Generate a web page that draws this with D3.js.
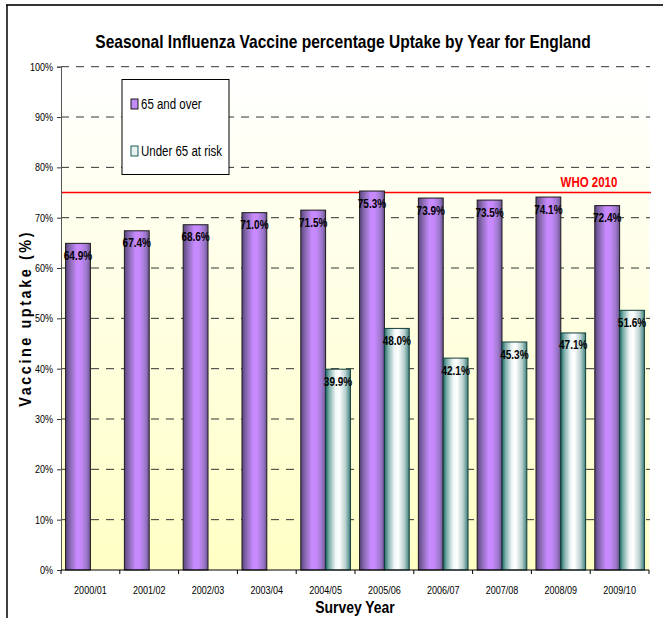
<!DOCTYPE html>
<html>
<head>
<meta charset="utf-8">
<script src="https://cdn.jsdelivr.net/npm/d3@7"></script>
<style>
  body { margin: 0; background: white; }
</style>
</head>
<body>
<div id="chart"></div>
<script>
var w = 663;
var h = 618;

var years = ["2000/01", "2001/02", "2002/03", "2003/04", "2004/05", "2005/06", "2006/07", "2007/08", "2008/09", "2009/10"];
var over65 = [64.9, 67.4, 68.6, 71.0, 71.5, 75.3, 73.9, 73.5, 74.1, 72.4];
var under65 = [null, null, null, null, 39.9, 48.0, 42.1, 45.3, 47.1, 51.6];
var seriesNames = ["65 and over", "Under 65 at risk"];
var yTicks = [0, 10, 20, 30, 40, 50, 60, 70, 80, 90, 100];
var whoTarget = 75;
var whoLabel = "WHO 2010";

var font = "'Liberation Sans', Arial, sans-serif";

var plotLeft = 61, plotRight = 649, plotTop = 66.7, plotBottom = 570;

var svg = d3.select("#chart")
    .append("svg")
    .attr("width", w)
    .attr("height", h);

// no narrow font installed, so squeeze the text horizontally
function condense(sel, f) {
    sel.each(function () {
        var len = this.getComputedTextLength();
        d3.select(this)
            .attr("textLength", len * f)
            .attr("lengthAdjust", "spacingAndGlyphs");
    });
}

var defs = svg.append("defs");

function hGrad(id, stops) {
    var g = defs.append("linearGradient")
        .attr("id", id)
        .attr("x1", "0%").attr("x2", "100%")
        .attr("y1", "0%").attr("y2", "0%");
    stops.forEach(function (s) {
        g.append("stop").attr("offset", s[0]).attr("stop-color", s[1]);
    });
}

hGrad("purpleGrad", [["0%", "#5c4480"], ["20%", "#8c6cb6"], ["45%", "#c88aff"], ["62%", "#c689fc"], ["85%", "#9c78ca"], ["100%", "#6c5290"]]);
hGrad("tealGrad", [["0%", "#1e6a66"], ["15%", "#7fb0ac"], ["40%", "#f0f6f6"], ["55%", "#ffffff"], ["80%", "#b8d0ce"], ["100%", "#3e807c"]]);

var bg = defs.append("linearGradient")
    .attr("id", "bgGrad")
    .attr("x1", "0%").attr("x2", "0%")
    .attr("y1", "0%").attr("y2", "100%");
bg.append("stop").attr("offset", "0%").attr("stop-color", "#ffffff");
bg.append("stop").attr("offset", "100%").attr("stop-color", "#ffffc4");

// outer frame (only top and left visible)
svg.append("line")
    .attr("x1", 6).attr("x2", w).attr("y1", 5).attr("y2", 5)
    .attr("stroke", "#333").attr("stroke-width", 2);
svg.append("line")
    .attr("x1", 7).attr("x2", 7).attr("y1", 5).attr("y2", h)
    .attr("stroke", "#000").attr("stroke-width", 1.5);

var pad = 0.156;
var x0 = d3.scaleBand()
    .domain(years)
    .range([plotLeft, plotRight])
    .paddingInner(pad)
    .paddingOuter(pad / 2);

var x1 = d3.scaleBand()
    .domain([0, 1])
    .range([0, x0.bandwidth()]);

var y = d3.scaleLinear()
    .domain([0, 100])
    .range([plotBottom, plotTop]);

// plot background
svg.append("rect")
    .attr("x", plotLeft).attr("y", plotTop)
    .attr("width", plotRight - plotLeft).attr("height", plotBottom - plotTop)
    .attr("fill", "url(#bgGrad)");

// gridlines
svg.selectAll(".grid")
    .data(yTicks.slice(1))
    .join("line")
    .attr("class", "grid")
    .attr("x1", plotLeft).attr("x2", plotRight + 1)
    .attr("y1", function (d) { return y(d); })
    .attr("y2", function (d) { return y(d); })
    .attr("stroke", "#333")
    .attr("stroke-dasharray", "8,7");

// WHO target line
svg.append("line")
    .attr("x1", plotLeft).attr("x2", plotRight + 2)
    .attr("y1", y(whoTarget)).attr("y2", y(whoTarget))
    .attr("stroke", "#ff0000").attr("stroke-width", 1.5);

svg.append("text")
    .attr("x", 589)
    .attr("y", y(whoTarget) - 6)
    .attr("text-anchor", "middle")
    .attr("font-family", font)
    .attr("font-weight", "bold")
    .attr("font-size", "14px")
    .attr("fill", "#ff0000")
    .text(whoLabel)
    .call(condense, 0.82);

// bars
var barData = [];
years.forEach(function (yr, i) {
    if (over65[i] != null) barData.push({ year: yr, s: 0, v: over65[i] });
    if (under65[i] != null) barData.push({ year: yr, s: 1, v: under65[i] });
});

svg.selectAll(".bar")
    .data(barData)
    .join("rect")
    .attr("class", "bar")
    .attr("x", function (d) { return x0(d.year) + x1(d.s); })
    .attr("y", function (d) { return y(d.v); })
    .attr("width", x1.bandwidth())
    .attr("height", function (d) { return y(0) - y(d.v); })
    .attr("fill", function (d) { return d.s == 0 ? "url(#purpleGrad)" : "url(#tealGrad)"; })
    .attr("stroke", function (d) { return d.s == 0 ? "#1a1a1a" : "#123c3a"; })
    .attr("stroke-width", 1);

svg.selectAll(".valueLabel")
    .data(barData)
    .join("text")
    .attr("class", "valueLabel")
    .attr("x", function (d) { return x0(d.year) + x1(d.s) + x1.bandwidth() / 2; })
    .attr("y", function (d) { return y(d.v) + 16.5; })
    .attr("text-anchor", "middle")
    .attr("font-family", font)
    .attr("font-weight", "bold")
    .attr("font-size", "12.5px")
    .attr("fill", "#000")
    .text(function (d) { return d3.format(".1f")(d.v) + "%"; })
    .call(condense, 0.8);

// y axis
var yAxis = svg.append("g")
    .attr("transform", "translate(" + plotLeft + ",0)")
    .call(d3.axisLeft(y).tickValues(yTicks).tickSize(4).tickPadding(4)
        .tickFormat(function (d) { return d + "%"; }));
yAxis.select(".domain").attr("stroke", "#555");
yAxis.selectAll(".tick line").attr("stroke", "#333");
yAxis.selectAll("text")
    .attr("font-family", font)
    .attr("font-size", "11px")
    .attr("fill", "#000")
    .call(condense, 0.82);

// x axis labels
var xAxis = svg.append("g")
    .attr("transform", "translate(0," + plotBottom + ")")
    .call(d3.axisBottom(x0).tickSize(0).tickPadding(16));
xAxis.select(".domain").remove();
xAxis.selectAll("text")
    .attr("font-family", font)
    .attr("font-size", "11px")
    .attr("fill", "#000")
    .call(condense, 0.82);

svg.append("line")
    .attr("x1", plotLeft).attr("x2", plotRight)
    .attr("y1", plotBottom).attr("y2", plotBottom)
    .attr("stroke", "#000").attr("stroke-width", 1);

var step = x0.step();
var bounds = years.map(function (d) { return x0(d) - step * pad / 2; });
bounds.push(plotRight);
svg.selectAll(".xtick")
    .data(bounds)
    .join("line")
    .attr("class", "xtick")
    .attr("x1", function (d) { return d; })
    .attr("x2", function (d) { return d; })
    .attr("y1", plotBottom).attr("y2", plotBottom + 4)
    .attr("stroke", "#000");

// legend
var legend = svg.append("g");
legend.append("rect")
    .attr("x", 122).attr("y", 79.5)
    .attr("width", 107).attr("height", 95)
    .attr("fill", "white").attr("stroke", "#000");

var legendItems = legend.selectAll(".item")
    .data(seriesNames)
    .join("g")
    .attr("class", "item")
    .attr("transform", function (d, i) { return "translate(131," + (99 + i * 47) + ")"; });
legendItems.append("rect")
    .attr("width", 7).attr("height", 10)
    .attr("fill", function (d, i) { return i == 0 ? "#c38cf5" : "#e6f2f0"; })
    .attr("stroke", function (d, i) { return i == 0 ? "#1a1a1a" : "#1e5a56"; });
legendItems.append("text")
    .attr("x", 10).attr("y", 10)
    .attr("font-family", font)
    .attr("font-size", "14px")
    .attr("fill", "#000")
    .text(function (d) { return d; })
    .call(condense, 0.82);

// titles
svg.append("text")
    .attr("x", 343).attr("y", 48)
    .attr("text-anchor", "middle")
    .attr("font-family", font)
    .attr("font-weight", "bold")
    .attr("font-size", "18.5px")
    .text("Seasonal Influenza Vaccine percentage Uptake by Year for England")
    .call(condense, 0.84);

svg.append("text")
    .attr("x", (plotLeft + plotRight) / 2).attr("y", 613)
    .attr("text-anchor", "middle")
    .attr("font-family", font)
    .attr("font-weight", "bold")
    .attr("font-size", "17px")
    .text("Survey Year")
    .call(condense, 0.82);

svg.append("text")
    .attr("transform", "translate(31," + ((plotTop + plotBottom) / 2) + ") rotate(-90)")
    .attr("text-anchor", "middle")
    .attr("font-family", font)
    .attr("font-weight", "bold")
    .attr("font-size", "17px")
    .attr("letter-spacing", "3px")
    .text("Vaccine uptake (%)")
    .call(condense, 0.85);
</script>
</body>
</html>
